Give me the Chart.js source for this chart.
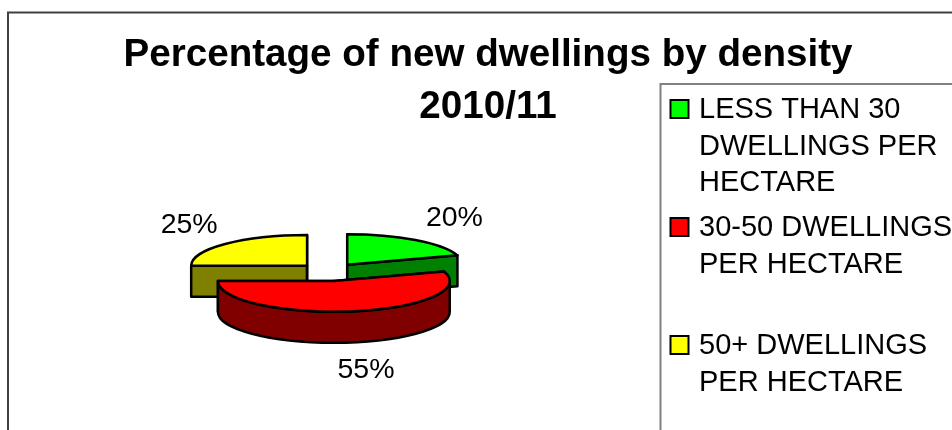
<!DOCTYPE html>
<html>
<head>
<meta charset="utf-8">
<title>Percentage of new dwellings by density</title>
<script src="https://cdn.jsdelivr.net/npm/chart.js@4"></script>
<style>
  html, body { margin: 0; padding: 0; background: #fff; overflow: hidden; }
  canvas { display: block; }
</style>
</head>
<body>
<canvas id="chart" width="952" height="430"></canvas>
<script>
const categories = ['LESS THAN 30 DWELLINGS PER HECTARE', '30-50 DWELLINGS PER HECTARE', '50+ DWELLINGS PER HECTARE'];
const legendLines = [
  ['LESS THAN 30', 'DWELLINGS PER', 'HECTARE'],
  ['30-50 DWELLINGS', 'PER HECTARE'],
  ['50+ DWELLINGS', 'PER HECTARE'],
];
const percentages = [20, 55, 25];
const topColors = ['#00ff00', '#ff0000', '#ffff00'];
const sideColors = ['#008000', '#800000', '#808000'];
const titleLines = ['Percentage of new dwellings by density', '2010/11'];

const FONT = '"Liberation Sans", Arial, sans-serif';
const TILT = 0.265;
const EXPLODE = 31;
const EXPLODE_TILT = 0.29;
const DEPTH = 31;

// pie controller that draws each slice as an exploded, tilted 3D wedge
class Pie3dController extends Chart.PieController {
  draw() {
    const ctx = this.chart.ctx;
    const arcs = this.getMeta().data;
    // back to front, so the slice nearest the viewer overlaps the others
    const order = arcs.map((arc, i) => i).sort((a, b) => {
      const mid = arc => (arc.startAngle + arc.endAngle) / 2;
      return Math.sin(mid(arcs[a])) - Math.sin(mid(arcs[b]));
    });
    ctx.save();
    ctx.lineWidth = 2.5;
    ctx.lineJoin = 'round';
    ctx.strokeStyle = '#000';
    order.forEach(i => {
      const arc = arcs[i];
      const a0 = arc.startAngle, a1 = arc.endAngle, r = arc.outerRadius;
      const mid = (a0 + a1) / 2;
      const cx = arc.x + Math.cos(mid) * EXPLODE;
      const cy = arc.y + Math.sin(mid) * EXPLODE * EXPLODE_TILT;
      const ry = r * TILT;
      const px = a => cx + Math.cos(a) * r;
      const py = a => cy + Math.sin(a) * ry;
      const paint = color => { ctx.fillStyle = color; ctx.fill(); ctx.stroke(); };

      // radial cut faces
      [a0, a1].forEach(a => {
        ctx.beginPath();
        ctx.moveTo(cx, cy);
        ctx.lineTo(px(a), py(a));
        ctx.lineTo(px(a), py(a) + DEPTH);
        ctx.lineTo(cx, cy + DEPTH);
        ctx.closePath();
        paint(sideColors[i]);
      });

      // outer wall, only the part that faces the viewer
      const w0 = Math.max(a0, 0), w1 = Math.min(a1, Math.PI);
      if (w1 > w0) {
        ctx.beginPath();
        ctx.ellipse(cx, cy, r, ry, 0, w0, w1);
        ctx.ellipse(cx, cy + DEPTH, r, ry, 0, w1, w0, true);
        ctx.closePath();
        paint(sideColors[i]);
      }

      // top surface
      ctx.beginPath();
      ctx.moveTo(cx, cy);
      ctx.ellipse(cx, cy, r, ry, 0, a0, a1);
      ctx.closePath();
      paint(topColors[i]);
    });

    // percentage labels outside the slices
    ctx.fillStyle = '#000';
    ctx.font = '28.5px ' + FONT;
    ctx.textAlign = 'center';
    ctx.textBaseline = 'middle';
    arcs.forEach((arc, i) => {
      const mid = (arc.startAngle + arc.endAngle) / 2;
      const r = arc.outerRadius;
      const cx = arc.x + Math.cos(mid) * EXPLODE;
      const cy = arc.y + Math.sin(mid) * EXPLODE * EXPLODE_TILT;
      const below = Math.sin(mid) > 0 ? DEPTH : 0;
      ctx.fillText(percentages[i] + '%', cx + Math.cos(mid) * r * 1.5 + 5, cy + Math.sin(mid) * r * TILT * 1.9 + below + 1);
    });
    ctx.restore();
  }
}
Pie3dController.id = 'pie3d';
Chart.register(Pie3dController);

// legend with wrapped labels, laid out as a box on the right
function legendBox(chart) {
  return {
    position: 'right',
    weight: 0,
    fullSize: false,
    options: {},
    width: 318,
    isHorizontal() { return false; },
    update(maxWidth, maxHeight) { this.width = 318; this.height = maxHeight; },
    draw() {
      const ctx = chart.ctx;
      const x = this.left + 26.5;
      ctx.save();
      ctx.strokeStyle = '#808080';
      ctx.lineWidth = 2;
      ctx.strokeRect(x, 84, 400, 500);
      ctx.font = '29px ' + FONT;
      ctx.textBaseline = 'alphabetic';
      ctx.textAlign = 'left';
      legendLines.forEach((lines, i) => {
        const y = 100 + i * 118;
        ctx.fillStyle = topColors[i];
        ctx.strokeStyle = '#000';
        ctx.fillRect(x + 10, y, 18, 18);
        ctx.strokeRect(x + 10, y, 18, 18);
        ctx.fillStyle = '#000';
        lines.forEach((line, j) => ctx.fillText(line, x + 38.5, y + 18 + j * 36.5));
      });
      ctx.restore();
    },
  };
}

const framePlugin = {
  id: 'frame',
  beforeInit(chart) { Chart.layouts.addBox(chart, legendBox(chart)); },
  beforeDraw(chart) {
    const ctx = chart.ctx;
    ctx.save();
    ctx.strokeStyle = '#404040';
    ctx.lineWidth = 2;
    ctx.strokeRect(8, 12.5, 1100, 600);
    ctx.restore();
  },
};

new Chart(document.getElementById('chart'), {
  type: 'pie3d',
  data: {
    labels: categories,
    datasets: [{ data: percentages, backgroundColor: topColors, borderWidth: 0 }],
  },
  plugins: [framePlugin],
  options: {
    responsive: false,
    animation: false,
    events: [],
    layout: { padding: { left: 24, right: 0, top: 0, bottom: 42 } },
    plugins: {
      legend: { display: false },
      tooltip: { enabled: false },
      title: {
        display: true,
        text: titleLines,
        color: '#000',
        font: { family: FONT, size: 38.6, weight: 'bold', lineHeight: 1.35 },
        padding: { top: 29, bottom: 23 },
      },
    },
  },
});
</script>
</body>
</html>
